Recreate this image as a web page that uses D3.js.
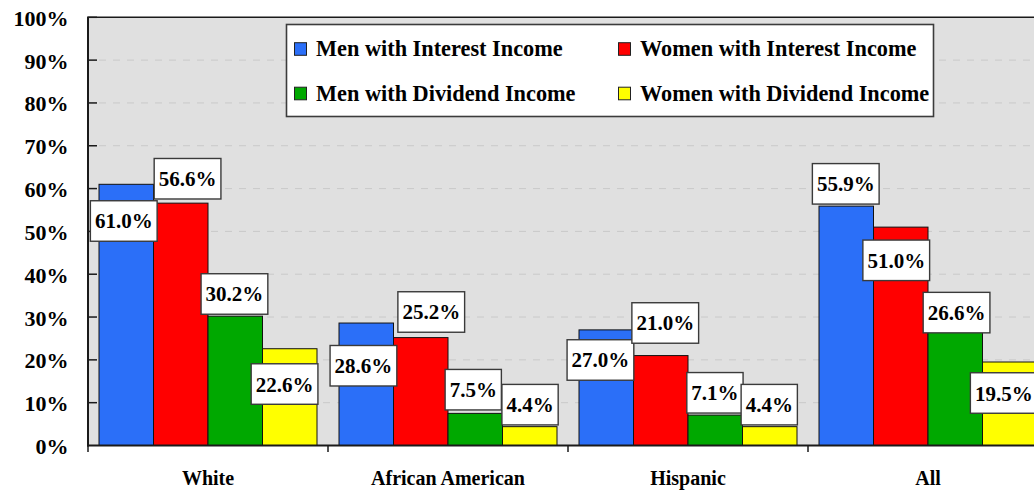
<!DOCTYPE html>
<html>
<head>
<meta charset="utf-8">
<script src="https://cdn.jsdelivr.net/npm/d3@7"></script>
<style>
  html, body { margin: 0; padding: 0; background: #ffffff; }
  svg text { font-family: "Liberation Serif", "Tinos", "Times New Roman", serif; font-weight: bold; }
</style>
</head>
<body>
<svg id="chart" width="1034" height="491"></svg>
<script>
// Share of people with interest / dividend income, by group (percent)
const categories = ["White", "African American", "Hispanic", "All"];
const seriesNames = [
  "Men with Interest Income",
  "Women with Interest Income",
  "Men with Dividend Income",
  "Women with Dividend Income"
];
const menInterest   = [61.0, 28.6, 27.0, 55.9];
const womenInterest = [56.6, 25.2, 21.0, 51.0];
const menDividend   = [30.2, 7.5, 7.1, 26.6];
const womenDividend = [22.6, 4.4, 4.4, 19.5];
const yTickValues = [0, 10, 20, 30, 40, 50, 60, 70, 80, 90, 100];

// Styling and layout
const serifFont = '"Liberation Serif", "Tinos", "Times New Roman", serif';
const seriesColors = ["#2b6ff8", "#ff0000", "#00a800", "#ffff00"];
// Label box nudges [dx, dy] from the top-centre of each bar, per group then series
const labelNudges = [
  [[-2.5, 36.7], [6.8, -24.4], [-0.8, -22.2], [-5.2, 35.3]],
  [[-2.8, 42.7], [10.5, -25.6], [-2, -23.7], [0.3, -22]],
  [[-5.8, 30.1], [4.5, -32.6], [-0.3, -22.3], [-0.5, -22]],
  [[-0.5, -22.3], [-4.5, 33.2], [1.3, -19], [-6, 31]]
];

const seriesValues = [menInterest, womenInterest, menDividend, womenDividend];
const rows = categories.map((c, i) => ({
  category: c,
  values: seriesValues.map((arr, s) => ({ series: seriesNames[s], index: s, value: arr[i] }))
}));

const svg = d3.select("#chart");
const plotLeft = 88, plotTop = 17.3, plotBottom = 445.5, bandWidth = 240;
const plotRight = plotLeft + bandWidth * categories.length;

const x = d3.scaleBand().domain(categories).range([plotLeft, plotRight]).padding(0);
const xInner = d3.scaleBand().domain(seriesNames).range([11, 229]).padding(0);
const y = d3.scaleLinear().domain([0, 100]).range([plotBottom, plotTop]);

// Plot background
svg.append("rect")
  .attr("x", plotLeft).attr("y", plotTop)
  .attr("width", plotRight - plotLeft).attr("height", plotBottom - plotTop)
  .attr("fill", "#e0e0e0");

// Dashed gridlines
svg.append("g").selectAll("line")
  .data(yTickValues.filter(d => d > 0 && d < 100))
  .join("line")
  .attr("x1", plotLeft + 9).attr("x2", plotRight)
  .attr("y1", d => y(d)).attr("y2", d => y(d))
  .attr("stroke", "#c9c9c9").attr("stroke-width", 1)
  .attr("stroke-dasharray", "7,7")
  .attr("stroke-dashoffset", -2);

// Bars
const groups = svg.append("g").selectAll("g")
  .data(rows)
  .join("g")
  .attr("transform", d => `translate(${x(d.category)},0)`);

groups.selectAll("rect")
  .data(d => d.values)
  .join("rect")
  .attr("x", d => xInner(d.series))
  .attr("y", d => y(d.value))
  .attr("width", xInner.bandwidth())
  .attr("height", d => y(0) - y(d.value))
  .attr("fill", d => seriesColors[d.index])
  .attr("stroke", "#111")
  .attr("stroke-width", 1);

// Axes frame: left axis, top border, baseline
const frame = svg.append("g").attr("stroke", "#1a1a1a");
frame.append("line").attr("x1", plotLeft).attr("x2", plotLeft)
  .attr("y1", plotTop).attr("y2", plotBottom + 1).attr("stroke-width", 2);
frame.append("line").attr("x1", plotLeft - 1).attr("x2", plotRight)
  .attr("y1", plotTop).attr("y2", plotTop).attr("stroke-width", 1.6);
frame.append("line").attr("x1", plotLeft - 1).attr("x2", plotRight)
  .attr("y1", plotBottom).attr("y2", plotBottom).attr("stroke-width", 2);

// Y ticks (inside) and labels
const yAxis = svg.append("g");
yAxis.selectAll("line")
  .data(yTickValues.filter(d => d > 0))
  .join("line")
  .attr("x1", plotLeft).attr("x2", plotLeft + 9)
  .attr("y1", d => y(d)).attr("y2", d => y(d))
  .attr("stroke", "#1a1a1a").attr("stroke-width", 1.5);
yAxis.selectAll("text")
  .data(yTickValues)
  .join("text")
  .attr("x", 68.5)
  .attr("y", d => y(d) + 8.5)
  .attr("text-anchor", "end")
  .attr("font-family", serifFont)
  .attr("font-weight", "bold")
  .attr("font-size", 22)
  .attr("fill", "#000")
  .text(d => d + "%");

// X ticks (outside, at band boundaries) and category labels
const xAxis = svg.append("g");
xAxis.selectAll("line")
  .data(categories)
  .join("line")
  .attr("x1", d => x(d)).attr("x2", d => x(d))
  .attr("y1", plotBottom).attr("y2", plotBottom + 6.5)
  .attr("stroke", "#1a1a1a").attr("stroke-width", 1.5);
xAxis.selectAll("text")
  .data(categories)
  .join("text")
  .attr("x", d => x(d) + x.bandwidth() / 2)
  .attr("y", 485)
  .attr("text-anchor", "middle")
  .attr("font-family", serifFont)
  .attr("font-weight", "bold")
  .attr("font-size", 20)
  .attr("fill", "#000")
  .text(d => d);

// Value labels in white boxes
const labelFont = 21;
const labels = svg.append("g").selectAll("g")
  .data(rows.flatMap((r, ci) => r.values.map(v => ({ ...v, category: r.category, ci }))))
  .join("g")
  .attr("transform", d => {
    const nudge = labelNudges[d.ci][d.index];
    const cx = x(d.category) + xInner(d.series) + xInner.bandwidth() / 2 + nudge[0];
    const cy = y(d.value) + nudge[1];
    return `translate(${cx},${cy})`;
  });

labels.each(function (d) {
  const g = d3.select(this);
  const rect = g.append("rect").attr("fill", "#fff").attr("stroke", "#3a3a3a").attr("stroke-width", 1.4);
  const t = g.append("text")
    .attr("x", 0).attr("y", 7.5)
    .attr("text-anchor", "middle")
    .attr("font-family", serifFont)
    .attr("font-weight", "bold")
    .attr("font-size", labelFont)
    .attr("fill", "#000")
    .text(d.value.toFixed(1) + "%");
  const w = t.node().getComputedTextLength() + 9;
  const h = 40.5;
  rect.attr("x", -w / 2).attr("y", -h / 2).attr("width", w).attr("height", h);
});

// Legend
const legend = svg.append("g");
legend.append("rect")
  .attr("x", 286.5).attr("y", 24.5)
  .attr("width", 647).attr("height", 92)
  .attr("fill", "#fff").attr("stroke", "#3c3c3c").attr("stroke-width", 1.6);

const legendPos = [[294.5, 49], [618.5, 49], [294.5, 93.5], [618.5, 93.5]];
const items = legend.selectAll("g.item")
  .data(seriesNames)
  .join("g")
  .attr("class", "item")
  .attr("transform", (d, i) => `translate(${legendPos[i][0]},${legendPos[i][1]})`);
items.append("rect")
  .attr("x", 0).attr("y", -6.3)
  .attr("width", 12).attr("height", 12.6)
  .attr("fill", (d, i) => seriesColors[i])
  .attr("stroke", "#222").attr("stroke-width", 1);
items.append("text")
  .attr("x", 21.5).attr("y", 7.3)
  .attr("font-family", serifFont)
  .attr("font-weight", "bold")
  .attr("font-size", 22.3)
  .attr("fill", "#000")
  .text(d => d);
</script>
</body>
</html>
